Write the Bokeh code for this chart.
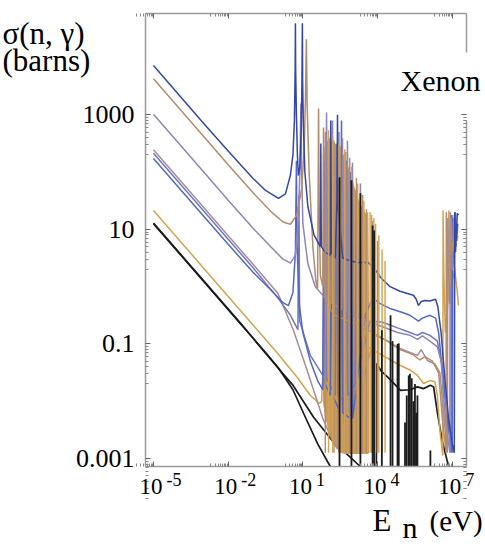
import numpy as np
from bokeh.plotting import figure
from bokeh.models import Range1d, LogAxis, FixedTicker, Label
from bokeh.embed import file_html
from bokeh.resources import INLINE

# ---- data: (log10 E [eV], log10 sigma [barn]) ----
ba = [(-5.0,3.86),(-3.0,2.86),(-2.0,2.37),(-1.0,1.89),(-0.5,1.68),(0.02,1.54),(0.3,1.62),(0.5,1.95),(0.6,2.3),(0.66,2.9),(0.69,3.8),(0.70,4.6),(0.71,3.8),(0.74,3.0),(0.78,2.3),(0.82,1.94),(0.88,2.1),(0.93,2.7),(0.96,3.5),(0.98,4.6),(0.99,3.6),(1.02,2.8),(1.08,2.0),(1.2,1.4),(1.45,0.9),(1.7,0.7),(1.72,2.5),(1.74,0.7),(1.9,0.6),(2.1,0.55),(2.12,2.9),(2.14,0.6),(2.3,0.5),(2.37,1.5),(2.39,3.0),(2.41,1.4),(2.6,0.5),(2.9,0.45),(2.92,2.0),(2.94,0.45),(3.2,0.42),(3.5,0.42),(3.63,0.42),(3.9,0.3),(4.12,0.16),(4.5,0.0),(4.9,-0.08),(5.2,-0.12),(5.44,-0.15),(5.55,-0.22),(5.64,-0.33),(5.75,-0.26),(5.9,-0.24),(6.1,-0.25),(6.33,-0.22),(6.42,-0.35),(6.55,-0.8),(6.7,-1.6),(6.85,-2.3),(7.0,-2.75),(7.08,-2.9),(7.1,1.3),(7.13,0.6),(7.16,0.9),(7.2,1.28),(7.25,1.25)]
tn = [(-5.0,3.63),(-3.0,2.63),(-2.0,2.13),(-1.0,1.64),(-0.3,1.32),(0.2,1.13),(0.5,1.09),(0.75,1.25),(0.95,1.7),(1.05,2.4),(1.1,3.2),(1.14,4.32),(1.17,3.2),(1.25,2.0),(1.4,0.7),(1.52,0.1),(1.59,-0.03),(1.61,1.5),(1.63,3.11),(1.65,1.5),(1.7,0.2),(1.8,0.0),(1.83,2.78),(1.86,-0.1),(2.0,-0.3),(2.05,2.6),(2.1,-0.4),(2.3,-0.5),(2.55,-0.55),(2.85,-0.6),(3.2,-0.65),(3.6,-0.75),(4.0,-0.85),(4.4,-0.95),(4.9,-1.1),(5.4,-1.18),(5.7,-1.28),(5.9,-1.22),(6.2,-1.3),(6.45,-1.5),(6.6,-2.3),(6.75,-2.9),(6.76,1.3),(6.8,0.4),(6.92,0.0),(6.95,1.2),(7.0,0.6),(7.1,0.9),(7.25,0.86)]
lv = [(-5.0,3.01),(-3.0,2.01),(-2.0,1.51),(-1.0,1.02),(-0.3,0.7),(0.2,0.48),(0.5,0.41),(0.7,0.55),(0.82,1.2),(0.88,2.0),(0.92,3.2),(0.95,2.0),(1.0,1.1),(1.2,0.4),(1.5,0.0),(1.9,-0.2),(1.95,3.04),(2.0,-0.1),(2.15,-0.3),(2.19,2.9),(2.23,-0.3),(2.55,-0.4),(2.59,2.59),(2.63,-0.4),(2.75,-0.45),(2.79,2.55),(2.83,-0.45),(2.95,-0.5),(2.99,2.17),(3.03,-0.5),(3.27,-0.55),(3.31,1.8),(3.35,-0.55),(3.7,-0.62),(4.2,-0.7),(4.8,-0.8),(5.3,-0.85),(5.6,-0.92),(5.8,-0.86),(6.1,-0.95),(6.4,-1.05),(6.55,-1.3),(6.72,-2.3),(6.9,-2.9),(6.92,1.3),(7.0,0.3),(7.05,1.2),(7.1,0.95)]
mv = [(-5.0,2.39),(-3.0,1.39),(-2.0,0.89),(-1.0,0.39),(0.0,-0.12),(0.62,-0.76),(1.2,-1.5),(1.8,-2.3),(2.2,-2.7),(2.39,-2.83),(2.45,2.7),(2.5,-2.6),(2.6,2.2),(2.65,-2.4),(2.8,2.0),(2.85,-2.2),(3.0,1.5),(3.05,-2.0),(3.3,1.2),(3.35,-1.8),(3.6,-1.3),(3.9,-0.85),(4.4,-0.95),(4.8,-1.06),(5.3,-1.15),(5.6,-1.2),(5.75,-1.1),(6.0,-1.29),(6.3,-1.35),(6.5,-1.5),(6.65,-2.2),(6.8,-2.9),(6.82,1.2),(6.9,-0.3),(7.02,1.25),(7.06,0.4),(7.1,0.3)]
bb = [(-5.0,2.33),(-3.0,1.33),(-2.0,0.83),(-1.0,0.33),(0.0,-0.2),(0.5,-0.5),(0.8,-0.75),(0.84,1.6),(0.87,-0.6),(1.3,-1.2),(1.8,-1.55),(1.88,2.2),(1.95,-1.6),(2.3,-1.9),(2.35,2.5),(2.4,-1.9),(2.7,-2.0),(2.75,2.2),(2.8,-1.9),(3.1,-1.7),(3.15,1.7),(3.2,-1.5),(3.7,-0.6),(4.2,-0.62),(4.8,-0.72),(5.3,-0.8),(5.6,-0.85),(5.8,-0.8),(6.1,-0.85),(6.4,-0.95),(6.6,-1.4),(6.8,-2.3),(6.95,-2.9),(6.97,1.25),(7.03,0.5),(7.08,1.1),(7.15,0.7)]
bc = [(-5.0,2.24),(-3.0,1.24),(-2.0,0.74),(-1.0,0.25),(-0.3,-0.05),(0.2,-0.28),(0.42,-0.33),(0.6,-0.1),(0.7,0.6),(0.74,2.2),(0.76,0.8),(0.85,-0.3),(1.0,-0.8),(1.3,-1.3),(1.6,-1.65),(1.8,-1.8),(1.85,2.0),(1.9,-1.7),(2.1,-1.9),(2.15,1.8),(2.2,-1.9),(2.5,-2.2),(2.55,2.9),(2.6,-2.2),(2.9,-2.3),(2.95,1.5),(3.0,-2.3),(3.5,-0.5),(3.8,-0.2),(4.12,-0.3),(4.5,-0.38),(5.0,-0.45),(5.3,-0.5),(5.5,-0.56),(5.64,-0.6),(5.8,-0.55),(6.1,-0.5),(6.33,-0.55),(6.45,-0.8),(6.7,-1.9),(6.9,-2.6),(7.0,-2.9),(7.02,1.2),(7.08,0.5),(7.12,1.3),(7.18,0.8),(7.22,1.1)]
gd = [(-5.0,1.33),(-3.0,0.33),(-2.0,-0.17),(-1.0,-0.67),(0.0,-1.17),(0.8,-1.6),(1.3,-1.9),(1.67,-2.04),(1.75,-2.0),(1.8,-1.5),(3.63,-1.06),(4.2,-1.2),(4.8,-1.35),(5.32,-1.46),(5.6,-1.55),(5.84,-1.69),(6.1,-1.64),(6.3,-1.66),(6.4,-1.9),(6.5,-2.5),(6.62,-2.95),(6.63,1.33),(6.66,0.2),(6.72,-0.8),(6.84,-0.2),(6.86,1.33),(6.9,0.5),(7.0,0.1),(7.1,0.3),(7.2,-0.1),(7.25,-0.33)]
bk1 = [(-5.0,1.10),(-3.0,0.1),(-1.5,-0.65),(-0.5,-1.15),(0.02,-1.42),(0.6,-1.8),(1.1,-2.28),(1.6,-2.75),(2.1,-3.14)]
bk2 = [(-5.0,1.11),(-3.0,0.11),(-1.5,-0.64),(-0.5,-1.16),(0.02,-1.43),(0.6,-1.72),(1.43,-2.28),(2.2,-2.7),(2.91,-2.98),(3.3,-3.14)]
bk2_urr = [(3.95,-3.14),(3.96,-1.34),(4.12,-1.46),(4.5,-1.62),(4.92,-1.81),(5.3,-1.8),(5.6,-1.75),(5.84,-1.78),(6.12,-1.72),(6.25,-1.75),(6.4,-2.2),(6.6,-2.7),(6.8,-3.05),(6.86,-3.14)]

# dense resolved-resonance band (envelope of the crowded gold/tan resonances)
band_logE = [1.8, 1.9, 2.1, 2.3, 2.5, 2.7, 2.9, 3.1, 3.3, 3.5, 3.62, 3.66]
band_top = [2.3, 2.5, 2.6, 2.5, 2.4, 2.25, 2.0, 1.7, 1.45, 1.3, 1.2, -0.5]
band_bot = [-2.0, -2.3, -2.6, -2.8, -2.9, -2.92, -2.92, -2.92, -2.92, -2.92, -2.92, -2.9]
tan_spk_logE = [1.9, 2.25, 2.5, 2.72, 2.88, 3.15, 3.4, 3.55, 3.8, 4.0]
tan_spk_top = [2.7, 2.55, 2.45, 2.35, 2.25, 1.9, 1.6, 1.35, 1.15, 0.8]
gold_spk_logE = [2.03, 2.2, 2.45, 2.68, 2.95, 3.2, 3.45, 3.6, 3.7, 3.76, 3.85, 3.92, 4.05, 4.18, 4.3]
gold_spk_top = [2.73, 2.6, 2.5, 2.4, 2.1, 1.8, 1.5, 1.3, 1.3, 1.25, 1.2, 1.1, 0.9, 0.65, 0.45]
blk_spk_logE = [2.47, 2.95, 3.31, 3.80, 3.86, 4.17, 4.52, 4.6, 4.8, 4.85, 5.1, 5.17, 5.25, 5.3, 5.37, 5.44, 5.5, 5.55, 5.6, 6.12]
blk_spk_top = [1.91, 1.86, 1.63, 1.07, 0.98, -0.76, -0.5, -0.95, -1.0, -0.99, -2.37, -1.9, -1.55, -1.52, -1.6, -2.0, -1.7, -2.2, -1.9, -2.86]

y_ticks = [1e-3, 1e-1, 1e1, 1e3]
y_tick_labels = ["0.001", "0.1", "10", "1000"]
x_tick_exps = [-5, -2, 1, 4, 7]

# visible plot box in log10 units and its place on the page (px)
XL, XR, YB, YT = -5.32, 7.57, -3.14, 4.77
W, H = 485, 554
BOX_L, BOX_R, BOX_T, BOX_B = 145, 466, 13, 466
GAP_HI, GAP_LO = 4.09, 2.90          # right frame line is interrupted by "Xenon"

BLUE_D = "#3446a8"
BLUE_M = "#5567c4"
BLUE_L = "#7377bd"
LAV = "#8c86b9"
MAUVE = "#a38d99"
TAN = "#b38c6b"
GOLD = "#d4a24f"
BLACK = "#1b1b1b"
FRAME = "#9a9a9a"
SERIF = "Liberation Serif"


def xy(pairs):
    a = np.array(pairs, dtype=float)
    return 10 ** a[:, 0], 10 ** a[:, 1]


sx = (XR - XL) / (BOX_R - BOX_L)
sy = (YT - YB) / (BOX_B - BOX_T)
x_lo, x_hi = XL - BOX_L * sx, XR + (W - BOX_R) * sx
y_lo, y_hi = YB - (H - BOX_B) * sy, YT + BOX_T * sy

p = figure(width=W, height=H, x_axis_type="log", y_axis_type="log",
           x_range=Range1d(10 ** x_lo, 10 ** x_hi), y_range=Range1d(10 ** y_lo, 10 ** y_hi),
           output_backend="svg", toolbar_location=None,
           min_border_left=0, min_border_right=0, min_border_top=0, min_border_bottom=0)
p.grid.visible = False
p.outline_line_color = None
p.background_fill_color = "white"
p.border_fill_color = "white"

# black curves (underneath)
for c in (bk1, bk2, bk2_urr):
    x, y = xy(c)
    p.line(x, y, color=BLACK, line_width=1.7)

# dense band of resonances
p.varea(x=10 ** np.array(band_logE), y1=10 ** np.array(band_bot), y2=10 ** np.array(band_top),
        fill_color="#c89c5f", fill_alpha=1.0)

for c, col in ((gd, GOLD), (mv, MAUVE), (bb, BLUE_L), (bc, BLUE_M), (lv, LAV), (tn, TAN), (ba, BLUE_D)):
    x, y = xy(c)
    p.line(x, y, color=col, line_width=1.5)

base = 10 ** -2.9
te = 10 ** np.array(tan_spk_logE)
p.segment(x0=te, y0=[base] * len(te), x1=te, y1=10 ** np.array(tan_spk_top), color=TAN, line_width=1.4)
ge = 10 ** np.array(gold_spk_logE)
p.segment(x0=ge, y0=[base] * len(ge), x1=ge, y1=10 ** np.array(gold_spk_top), color=GOLD, line_width=1.4)
ke = 10 ** np.array(blk_spk_logE)
p.segment(x0=ke, y0=[10 ** YB] * len(ke), x1=ke, y1=10 ** np.array(blk_spk_top), color=BLACK, line_width=1.8)

# axes drawn as the frame of the visible box
x_major = [10.0 ** e for e in x_tick_exps]
x_minor = [k * t / 10 for t in x_major for k in range(2, 10)]
y_minor = [k * t / 10 for t in y_ticks for k in range(2, 10)]


def style(ax, ticks, minor):
    ax.ticker = FixedTicker(ticks=ticks, minor_ticks=minor)
    ax.major_label_overrides = {t: "" for t in ticks}
    ax.major_label_text_font_size = "1px"
    ax.major_label_standoff = 0
    ax.axis_line_color = FRAME
    ax.axis_line_width = 1.5
    ax.major_tick_in = 5
    ax.major_tick_out = 0
    ax.minor_tick_in = 3
    ax.minor_tick_out = 0
    ax.major_tick_line_color = "#666666"
    ax.minor_tick_line_color = "#888888"


bottom_ax = p.xaxis[0]
left_ax = p.yaxis[0]
style(bottom_ax, x_major, x_minor)
style(left_ax, y_ticks, y_minor)
bottom_ax.fixed_location = 10 ** YB
bottom_ax.bounds = (10 ** XL, 10 ** XR)
left_ax.fixed_location = 10 ** XL
left_ax.bounds = (10 ** YB, 10 ** YT)

top_ax = LogAxis(fixed_location=10 ** YT, bounds=(10 ** XL, 10 ** XR))
style(top_ax, x_major, x_minor)
p.add_layout(top_ax, "above")
right_hi = LogAxis(fixed_location=10 ** XR, bounds=(10 ** GAP_HI, 10 ** YT))
right_lo = LogAxis(fixed_location=10 ** XR, bounds=(10 ** YB, 10 ** GAP_LO))
style(right_hi, y_ticks, y_minor)
style(right_lo, y_ticks, y_minor)
p.add_layout(right_hi, "right")
p.add_layout(right_lo, "right")


def label(text, xd, yd, dx, dy, size, align="left"):
    p.add_layout(Label(x=xd, y=yd, x_units="data", y_units="data", x_offset=dx, y_offset=dy,
                       text=text, text_font=SERIF, text_font_size=size, text_align=align,
                       text_baseline="middle", text_color="black"))


# y tick labels
for t, s in zip(y_ticks, y_tick_labels):
    label(s, 10 ** XL, t, -11, 0, "26px", align="right")

# x tick labels 10^e
for e in x_tick_exps:
    label("10", 10.0 ** e, 10 ** YB, 9, -20, "23px", align="right")
    label(str(e), 10.0 ** e, 10 ** YB, 13, -13, "18px")

# axis titles and element name
label("σ(n, γ)", 10 ** XL, 10 ** YT, -143, -20, "31px")
label("(barns)", 10 ** XL, 10 ** YT, -143, -47, "31px")
label("E", 10 ** XR, 10 ** YB, -94, -54, "31px")
label("n", 10 ** XR, 10 ** YB, -64, -61, "30px")
label("(eV)", 10 ** XR, 10 ** YB, -37, -54, "29px")
label("Xenon", 10 ** XR, 10 ** YT, -66, -67, "30px")

open("out.html", "w").write(file_html(p, INLINE))
